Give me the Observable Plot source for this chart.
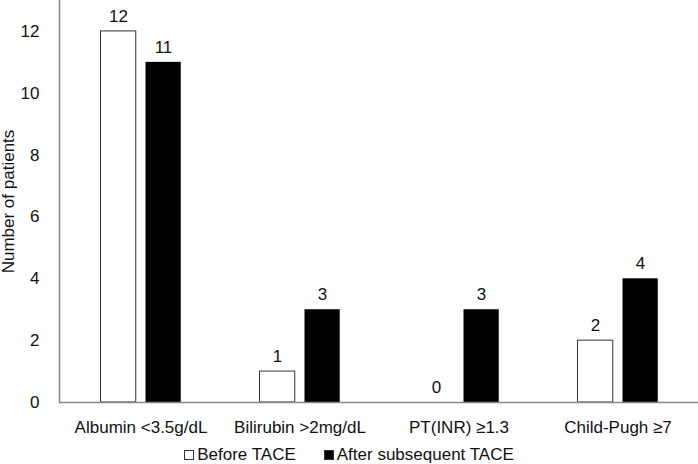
<!DOCTYPE html>
<html>
<head>
<meta charset="utf-8">
<script src="https://cdn.jsdelivr.net/npm/d3@7"></script>
<script src="https://cdn.jsdelivr.net/npm/@observablehq/plot@0.6"></script>
<style>
  html, body { margin: 0; padding: 0; background: #fff; }
  body { width: 698px; height: 464px; overflow: hidden; font-family: "Liberation Sans", Arial, sans-serif; }
  #chart svg { display: block; }
  #legend { height: 26px; margin-top: 4px; display: flex; justify-content: center; align-items: center; font-size: 17px; color: #111; }
  #legend .item { display: flex; align-items: center; }
  #legend .sw { width: 8px; height: 8px; border: 1px solid #333; margin-right: 3px; box-sizing: content-box; }
</style>
</head>
<body>
<div id="chart"></div>
<div id="legend"></div>
<script>
const categories = ["Albumin <3.5g/dL", "Bilirubin >2mg/dL", "PT(INR) \u22651.3", "Child-Pugh \u22657"];
const seriesNames = ["Before TACE", "After subsequent TACE"];
const beforeValues = [12, 1, 0, 2];
const afterValues = [11, 3, 3, 4];
const yTicks = [0, 2, 4, 6, 8, 10, 12];
const yLabel = "Number of patients";

const before = categories.map((c, i) => ({category: c, value: beforeValues[i]}));
const after = categories.map((c, i) => ({category: c, value: afterValues[i]}));

const font = "Liberation Sans, Arial, sans-serif";
const axisGray = "#888888";

const chart = Plot.plot({
  width: 698,
  height: 438,
  marginTop: 0,
  marginLeft: 59,
  marginRight: 0,
  marginBottom: 36,
  style: {fontFamily: font, fontSize: "17px", color: "#111", background: "#fff"},
  x: {domain: categories, padding: 0, axis: null},
  y: {domain: [0, 13], axis: null},
  marks: [
    Plot.barY(before, {x: "category", y: "value", fill: "white", stroke: "#333", strokeWidth: 1, insetLeft: 39.5, insetRight: 84.25}),
    Plot.barY(after, {x: "category", y: "value", fill: "black", insetLeft: 84.5, insetRight: 39.25}),
    Plot.text(before, {x: "category", y: "value", text: d => String(d.value), dx: -22.5, dy: -15, fontSize: 17, fill: "#111"}),
    Plot.text(after, {x: "category", y: "value", text: d => String(d.value), dx: 22.5, dy: -15, fontSize: 17, fill: "#111"}),
    Plot.ruleY([0], {stroke: axisGray, strokeWidth: 1.5}),
    Plot.frame({anchor: "left", stroke: axisGray, strokeWidth: 1.5}),
    Plot.axisX({tickSize: 0, tickPadding: 18, fontSize: 17, label: null}),
    Plot.axisY({ticks: yTicks, tickSize: 0, tickPadding: 20, fontSize: 17, label: null}),
    Plot.text([yLabel], {text: d => d, frameAnchor: "left", textAnchor: "middle", lineAnchor: "middle", rotate: -90, dx: -51, fontSize: 17, fill: "#111"})
  ]
});
document.getElementById("chart").appendChild(chart);

const legend = document.getElementById("legend");
const fills = ["white", "black"];
seriesNames.forEach((name, i) => {
  const item = document.createElement("div");
  item.className = "item";
  if (i > 0) item.style.marginLeft = "28px";
  const sw = document.createElement("span");
  sw.className = "sw";
  sw.style.background = fills[i];
  const t = document.createElement("span");
  t.textContent = name;
  item.appendChild(sw);
  item.appendChild(t);
  legend.appendChild(item);
});
</script>
</body>
</html>
